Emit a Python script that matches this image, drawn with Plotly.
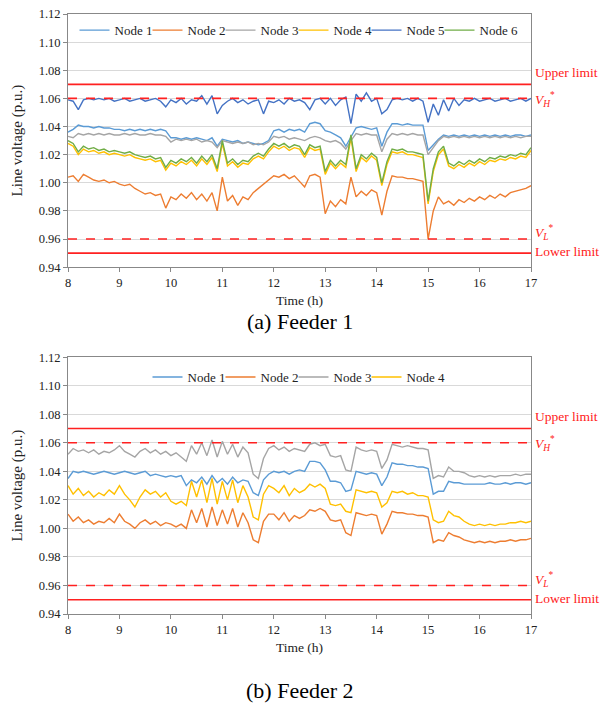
import numpy as np
import plotly.graph_objects as go

# time axis (h), 0.1 h steps
t = np.round(np.linspace(8, 17, 91), 1)

# Feeder 1 line voltages (p.u.)
f1_node1 = [1.036, 1.038, 1.041, 1.040, 1.040, 1.039, 1.040, 1.039, 1.039, 1.038,
            1.038, 1.037, 1.038, 1.037, 1.038, 1.037, 1.038, 1.037, 1.038, 1.037,
            1.032, 1.032, 1.031, 1.032, 1.031, 1.032, 1.031, 1.030, 1.032, 1.026,
            1.031, 1.030, 1.029, 1.030, 1.028, 1.029, 1.028, 1.027, 1.028, 1.030,
            1.037, 1.038, 1.036, 1.038, 1.037, 1.038, 1.036, 1.042, 1.043, 1.042,
            1.037, 1.036, 1.034, 1.032, 1.026, 1.033, 1.039, 1.040, 1.039, 1.038,
            1.039, 1.026, 1.036, 1.042, 1.042, 1.041, 1.042, 1.041, 1.041, 1.041,
            1.023, 1.027, 1.031, 1.034, 1.033, 1.034, 1.033, 1.034, 1.033, 1.034,
            1.033, 1.034, 1.033, 1.034, 1.033, 1.034, 1.033, 1.034, 1.034, 1.033, 1.034]
f1_node2 = [1.004, 1.005, 1.001, 1.006, 1.004, 1.002, 1.001, 1.002, 1.000, 1.001,
            0.999, 0.998, 0.999, 0.996, 0.994, 0.992, 0.993, 0.991, 0.992, 0.982,
            0.990, 0.988, 0.992, 0.989, 0.993, 0.988, 0.992, 0.987, 0.993, 0.980,
            1.004, 0.987, 0.991, 0.984, 0.990, 0.988, 0.993, 0.996, 0.999, 1.002,
            1.005, 1.004, 1.006, 1.003, 1.005, 1.001, 0.997, 1.005, 1.006, 1.004,
            0.978, 0.987, 0.983, 0.988, 0.985, 1.004, 0.990, 0.994, 0.991, 0.995,
            0.993, 0.977, 0.994, 1.005, 1.004, 1.004, 1.003, 1.003, 1.002, 1.001,
            0.960, 0.980, 0.990, 0.985, 0.987, 0.984, 0.988, 0.986, 0.989, 0.987,
            0.990, 0.988, 0.991, 0.989, 0.992, 0.990, 0.993, 0.994, 0.995, 0.996, 0.998]
f1_node3 = [1.033, 1.032, 1.035, 1.034, 1.035, 1.034, 1.035, 1.034, 1.035, 1.034,
            1.034, 1.035, 1.034, 1.035, 1.034, 1.034, 1.035, 1.034, 1.034, 1.033,
            1.029, 1.031, 1.030, 1.031, 1.030, 1.031, 1.029, 1.030, 1.029, 1.025,
            1.030, 1.029, 1.028, 1.029, 1.028, 1.029, 1.027, 1.028, 1.027, 1.029,
            1.033, 1.032, 1.033, 1.031, 1.032, 1.031, 1.030, 1.032, 1.033, 1.032,
            1.030, 1.029, 1.030, 1.028, 1.024, 1.030, 1.035, 1.034, 1.035, 1.034,
            1.034, 1.022, 1.031, 1.035, 1.034, 1.035, 1.034, 1.035, 1.034, 1.034,
            1.020, 1.025, 1.030, 1.033, 1.032, 1.033, 1.032, 1.033, 1.032, 1.033,
            1.032, 1.033, 1.032, 1.033, 1.032, 1.033, 1.032, 1.033, 1.032, 1.033, 1.033]
f1_node4 = [1.028, 1.026, 1.020, 1.024, 1.022, 1.023, 1.021, 1.022, 1.020, 1.021,
            1.020, 1.019, 1.020, 1.018, 1.017, 1.016, 1.017, 1.015, 1.016, 1.009,
            1.014, 1.012, 1.015, 1.013, 1.016, 1.012, 1.017, 1.013, 1.018, 1.008,
            1.028, 1.012, 1.015, 1.011, 1.014, 1.013, 1.017, 1.019, 1.017, 1.022,
            1.026, 1.024, 1.026, 1.023, 1.025, 1.024, 1.018, 1.025, 1.023, 1.024,
            1.006, 1.014, 1.010, 1.014, 1.011, 1.032, 1.008, 1.018, 1.015, 1.019,
            1.016, 0.998, 1.013, 1.022, 1.021, 1.022, 1.020, 1.020, 1.019, 1.018,
            0.985, 1.008, 1.020, 1.024, 1.012, 1.010, 1.013, 1.011, 1.014, 1.012,
            1.015, 1.013, 1.016, 1.015, 1.017, 1.016, 1.018, 1.017, 1.019, 1.018, 1.023]
f1_node5 = [1.059, 1.058, 1.052, 1.059, 1.060, 1.059, 1.060, 1.059, 1.060, 1.058,
            1.059, 1.060, 1.058, 1.059, 1.060, 1.058, 1.059, 1.060, 1.058, 1.054,
            1.059, 1.057, 1.060, 1.056, 1.059, 1.058, 1.062, 1.056, 1.062, 1.049,
            1.055, 1.058, 1.060, 1.057, 1.059, 1.056, 1.058, 1.059, 1.049, 1.058,
            1.057, 1.059, 1.056, 1.060, 1.058, 1.059, 1.057, 1.052, 1.059, 1.060,
            1.056, 1.060, 1.055, 1.059, 1.061, 1.042, 1.063, 1.058, 1.064, 1.058,
            1.060, 1.049, 1.052, 1.059, 1.060, 1.059, 1.060, 1.058, 1.060, 1.058,
            1.043, 1.056, 1.048, 1.059, 1.051, 1.060, 1.055, 1.059, 1.058, 1.060,
            1.058, 1.059, 1.060, 1.058, 1.059, 1.060, 1.058, 1.059, 1.060, 1.058, 1.060]
f1_node6 = [1.030, 1.028, 1.022, 1.026, 1.024, 1.025, 1.023, 1.024, 1.022, 1.023,
            1.022, 1.021, 1.022, 1.020, 1.019, 1.018, 1.019, 1.017, 1.018, 1.011,
            1.016, 1.014, 1.017, 1.015, 1.018, 1.014, 1.019, 1.015, 1.020, 1.010,
            1.030, 1.014, 1.017, 1.013, 1.016, 1.015, 1.019, 1.021, 1.019, 1.024,
            1.028, 1.026, 1.028, 1.025, 1.027, 1.026, 1.020, 1.027, 1.025, 1.026,
            1.008, 1.016, 1.012, 1.016, 1.013, 1.034, 1.010, 1.020, 1.017, 1.021,
            1.018, 1.000, 1.015, 1.024, 1.023, 1.024, 1.022, 1.022, 1.021, 1.020,
            0.987, 1.010, 1.022, 1.026, 1.014, 1.012, 1.015, 1.013, 1.016, 1.014,
            1.017, 1.015, 1.018, 1.017, 1.019, 1.018, 1.020, 1.019, 1.021, 1.020, 1.025]

# Feeder 2
f2_node1 = [1.035, 1.040, 1.039, 1.040, 1.039, 1.038, 1.039, 1.040, 1.039, 1.038,
            1.039, 1.040, 1.039, 1.038, 1.039, 1.040, 1.037, 1.038, 1.037, 1.036,
            1.037, 1.036, 1.037, 1.030, 1.034, 1.032, 1.036, 1.031, 1.037, 1.032,
            1.035, 1.031, 1.036, 1.032, 1.034, 1.033, 1.025, 1.023, 1.034, 1.038,
            1.040, 1.039, 1.040, 1.038, 1.040, 1.041, 1.040, 1.047, 1.047, 1.046,
            1.041, 1.033, 1.033, 1.032, 1.026, 1.027, 1.040, 1.039, 1.038, 1.039,
            1.038, 1.030, 1.036, 1.046, 1.045, 1.045, 1.044, 1.044, 1.043, 1.043,
            1.042, 1.024, 1.026, 1.026, 1.033, 1.032, 1.032, 1.031, 1.031, 1.031,
            1.031, 1.031, 1.032, 1.031, 1.031, 1.032, 1.031, 1.032, 1.032, 1.031, 1.032]
f2_node2 = [1.010, 1.005, 1.008, 1.004, 1.006, 1.003, 1.005, 1.004, 1.007, 1.004,
            1.010, 1.005, 1.003, 1.000, 1.004, 1.006, 1.003, 1.005, 1.002, 1.004,
            1.003, 1.001, 1.003, 1.000, 1.013, 1.004, 1.014, 1.001, 1.015, 1.002,
            1.013, 1.003, 1.014, 1.001, 1.011, 1.004, 0.992, 0.990, 1.005, 1.010,
            1.010, 1.006, 1.011, 1.005, 1.009, 1.007, 1.009, 1.013, 1.012, 1.014,
            1.012, 1.006, 1.005, 1.006, 0.997, 0.995, 1.011, 1.010, 1.009, 1.010,
            1.009, 0.996, 1.003, 1.012, 1.011, 1.011, 1.010, 1.010, 1.009, 1.009,
            1.008, 0.990, 0.992, 0.991, 0.997, 0.995, 0.994, 0.992, 0.991, 0.990,
            0.991, 0.990, 0.991, 0.990, 0.991, 0.991, 0.992, 0.991, 0.992, 0.992, 0.993]
f2_node3 = [1.052, 1.056, 1.054, 1.055, 1.053, 1.055, 1.052, 1.054, 1.053, 1.055,
            1.058, 1.054, 1.052, 1.050, 1.054, 1.056, 1.053, 1.055, 1.052, 1.054,
            1.051, 1.053, 1.050, 1.047, 1.058, 1.052, 1.060, 1.051, 1.062, 1.050,
            1.061, 1.052, 1.059, 1.050, 1.057, 1.053, 1.038, 1.035, 1.049, 1.056,
            1.058, 1.055, 1.057, 1.054, 1.056, 1.055, 1.054, 1.059, 1.060, 1.058,
            1.059, 1.051, 1.050, 1.051, 1.041, 1.040, 1.057, 1.055, 1.054, 1.055,
            1.054, 1.042, 1.048, 1.059, 1.058, 1.057, 1.058, 1.057, 1.056, 1.056,
            1.055, 1.035, 1.037, 1.036, 1.043, 1.040, 1.040, 1.039, 1.037, 1.036,
            1.037, 1.036, 1.037, 1.036, 1.037, 1.037, 1.037, 1.038, 1.037, 1.038, 1.038]
f2_node4 = [1.030, 1.024, 1.028, 1.023, 1.026, 1.022, 1.025, 1.023, 1.027, 1.024,
            1.030, 1.024, 1.020, 1.015, 1.022, 1.027, 1.024, 1.026, 1.022, 1.025,
            1.019, 1.017, 1.019, 1.016, 1.033, 1.022, 1.034, 1.018, 1.035, 1.017,
            1.033, 1.020, 1.034, 1.018, 1.030, 1.022, 1.008, 1.006, 1.024, 1.030,
            1.028, 1.025, 1.030, 1.023, 1.028, 1.025, 1.027, 1.031, 1.029, 1.031,
            1.028, 1.017, 1.016, 1.017, 1.012, 1.011, 1.027, 1.026, 1.025, 1.026,
            1.025, 1.015, 1.018, 1.026, 1.025, 1.026, 1.024, 1.025, 1.023, 1.023,
            1.022, 1.006, 1.004, 1.005, 1.012, 1.009, 1.008, 1.005, 1.003, 1.002,
            1.003, 1.002, 1.003, 1.002, 1.003, 1.003, 1.004, 1.004, 1.005, 1.004, 1.005]

# limits (p.u.)
upper_limit, v_h, v_l, lower_limit = 1.07, 1.06, 0.96, 0.95

colors = {"Node 1": "#5B9BD5", "Node 2": "#ED7D31", "Node 3": "#A5A5A5",
          "Node 4": "#FFC000", "Node 5": "#4472C4", "Node 6": "#70AD47"}
serif = "Liberation Serif"
red = "#FF2020"

feeder1 = [("Node 1", f1_node1), ("Node 2", f1_node2), ("Node 3", f1_node3),
           ("Node 4", f1_node4), ("Node 5", f1_node5), ("Node 6", f1_node6)]
feeder2 = [("Node 1", f2_node1), ("Node 2", f2_node2), ("Node 3", f2_node3),
           ("Node 4", f2_node4)]

fig = go.Figure()
for legend_id, (xa, ya), series in [("legend", ("x", "y"), feeder1),
                                    ("legend2", ("x2", "y2"), feeder2)]:
    for i, (name, vals) in enumerate(series):
        # the last legend entry gets a wider text box so it isn't clipped
        last = i == len(series) - 1
        fig.add_trace(go.Scatter(x=t, y=vals, mode="lines", name=name, legend=legend_id,
                                 legendwidth=44 if last else None,
                                 line=dict(color=colors[name], width=1.4), xaxis=xa, yaxis=ya))

# limit lines and their labels on the right
for xr, yr in [("x", "y"), ("x2", "y2")]:
    for val, dash in [(upper_limit, "solid"), (v_h, "dash"), (v_l, "dash"), (lower_limit, "solid")]:
        fig.add_shape(type="line", xref=xr, yref=yr, x0=8, x1=17, y0=val, y1=val,
                      line=dict(color=red, width=1.6, dash=dash))
    labels = [(upper_limit + 0.0085, "Upper limit"),
              (v_h - 0.0005, "<i>V<sub>H</sub></i><sup>*</sup>"),
              (v_l + 0.0045, "<i>V<sub>L</sub></i><sup>*</sup>"),
              (lower_limit + 0.001, "Lower limit")]
    for yv, txt in labels:
        fig.add_annotation(x=1.005, xref="paper", y=yv, yref=yr, text=txt, showarrow=False,
                           xanchor="left", yanchor="middle",
                           font=dict(family=serif, size=13.5, color=red))

fig.add_annotation(x=0.5, xref="paper", y=0.487, yref="paper", text="(a) Feeder 1",
                   showarrow=False, yanchor="middle",
                   font=dict(family=serif, size=22, color="black"))
fig.add_annotation(x=0.5, xref="paper", y=-0.127, yref="paper", text="(b) Feeder 2",
                   showarrow=False, yanchor="middle",
                   font=dict(family=serif, size=22, color="black"))

axis_common = dict(linecolor="#888888", linewidth=1, mirror=True, ticks="outside",
                   tickcolor="#888888", ticklen=4, automargin=False,
                   tickfont=dict(family=serif, size=12.5, color="#222"))
xax = dict(range=[8, 17], dtick=1, showgrid=False, zeroline=False,
           title=dict(text="Time (h)", font=dict(family=serif, size=13.5, color="#222"), standoff=6),
           **axis_common)
yax = dict(range=[0.94, 1.12], dtick=0.02, tickformat=".2f", showgrid=True,
           gridcolor="#D9D9D9", zeroline=False,
           title=dict(text="Line voltage (p.u.)", font=dict(family=serif, size=15, color="#222"),
                      standoff=12),
           **axis_common)

leg = dict(orientation="h", xanchor="center", yanchor="middle", xref="container",
           font=dict(family=serif, size=13, color="#222"), bgcolor="rgba(0,0,0,0)",
           itemwidth=30, entrywidth=28, entrywidthmode="pixels", tracegroupgap=0)

fig.update_layout(
    width=603, height=709,
    margin=dict(l=68, r=72, t=14, b=95, autoexpand=False),
    plot_bgcolor="white", paper_bgcolor="white",
    xaxis=dict(domain=[0, 1], anchor="y", **xax),
    yaxis=dict(domain=[0.578, 1], anchor="x", **yax),
    xaxis2=dict(domain=[0, 1], anchor="y2", **xax),
    yaxis2=dict(domain=[0, 0.428], anchor="x2", **yax),
    legend=dict(x=0.5, y=0.973, yref="paper", **leg),
    legend2=dict(x=0.5, y=0.395, yref="paper", **leg),
    showlegend=True,
)

fig.write_html("out.html", config={"displayModeBar": False},
               post_script="document.body.style.margin='0';")
